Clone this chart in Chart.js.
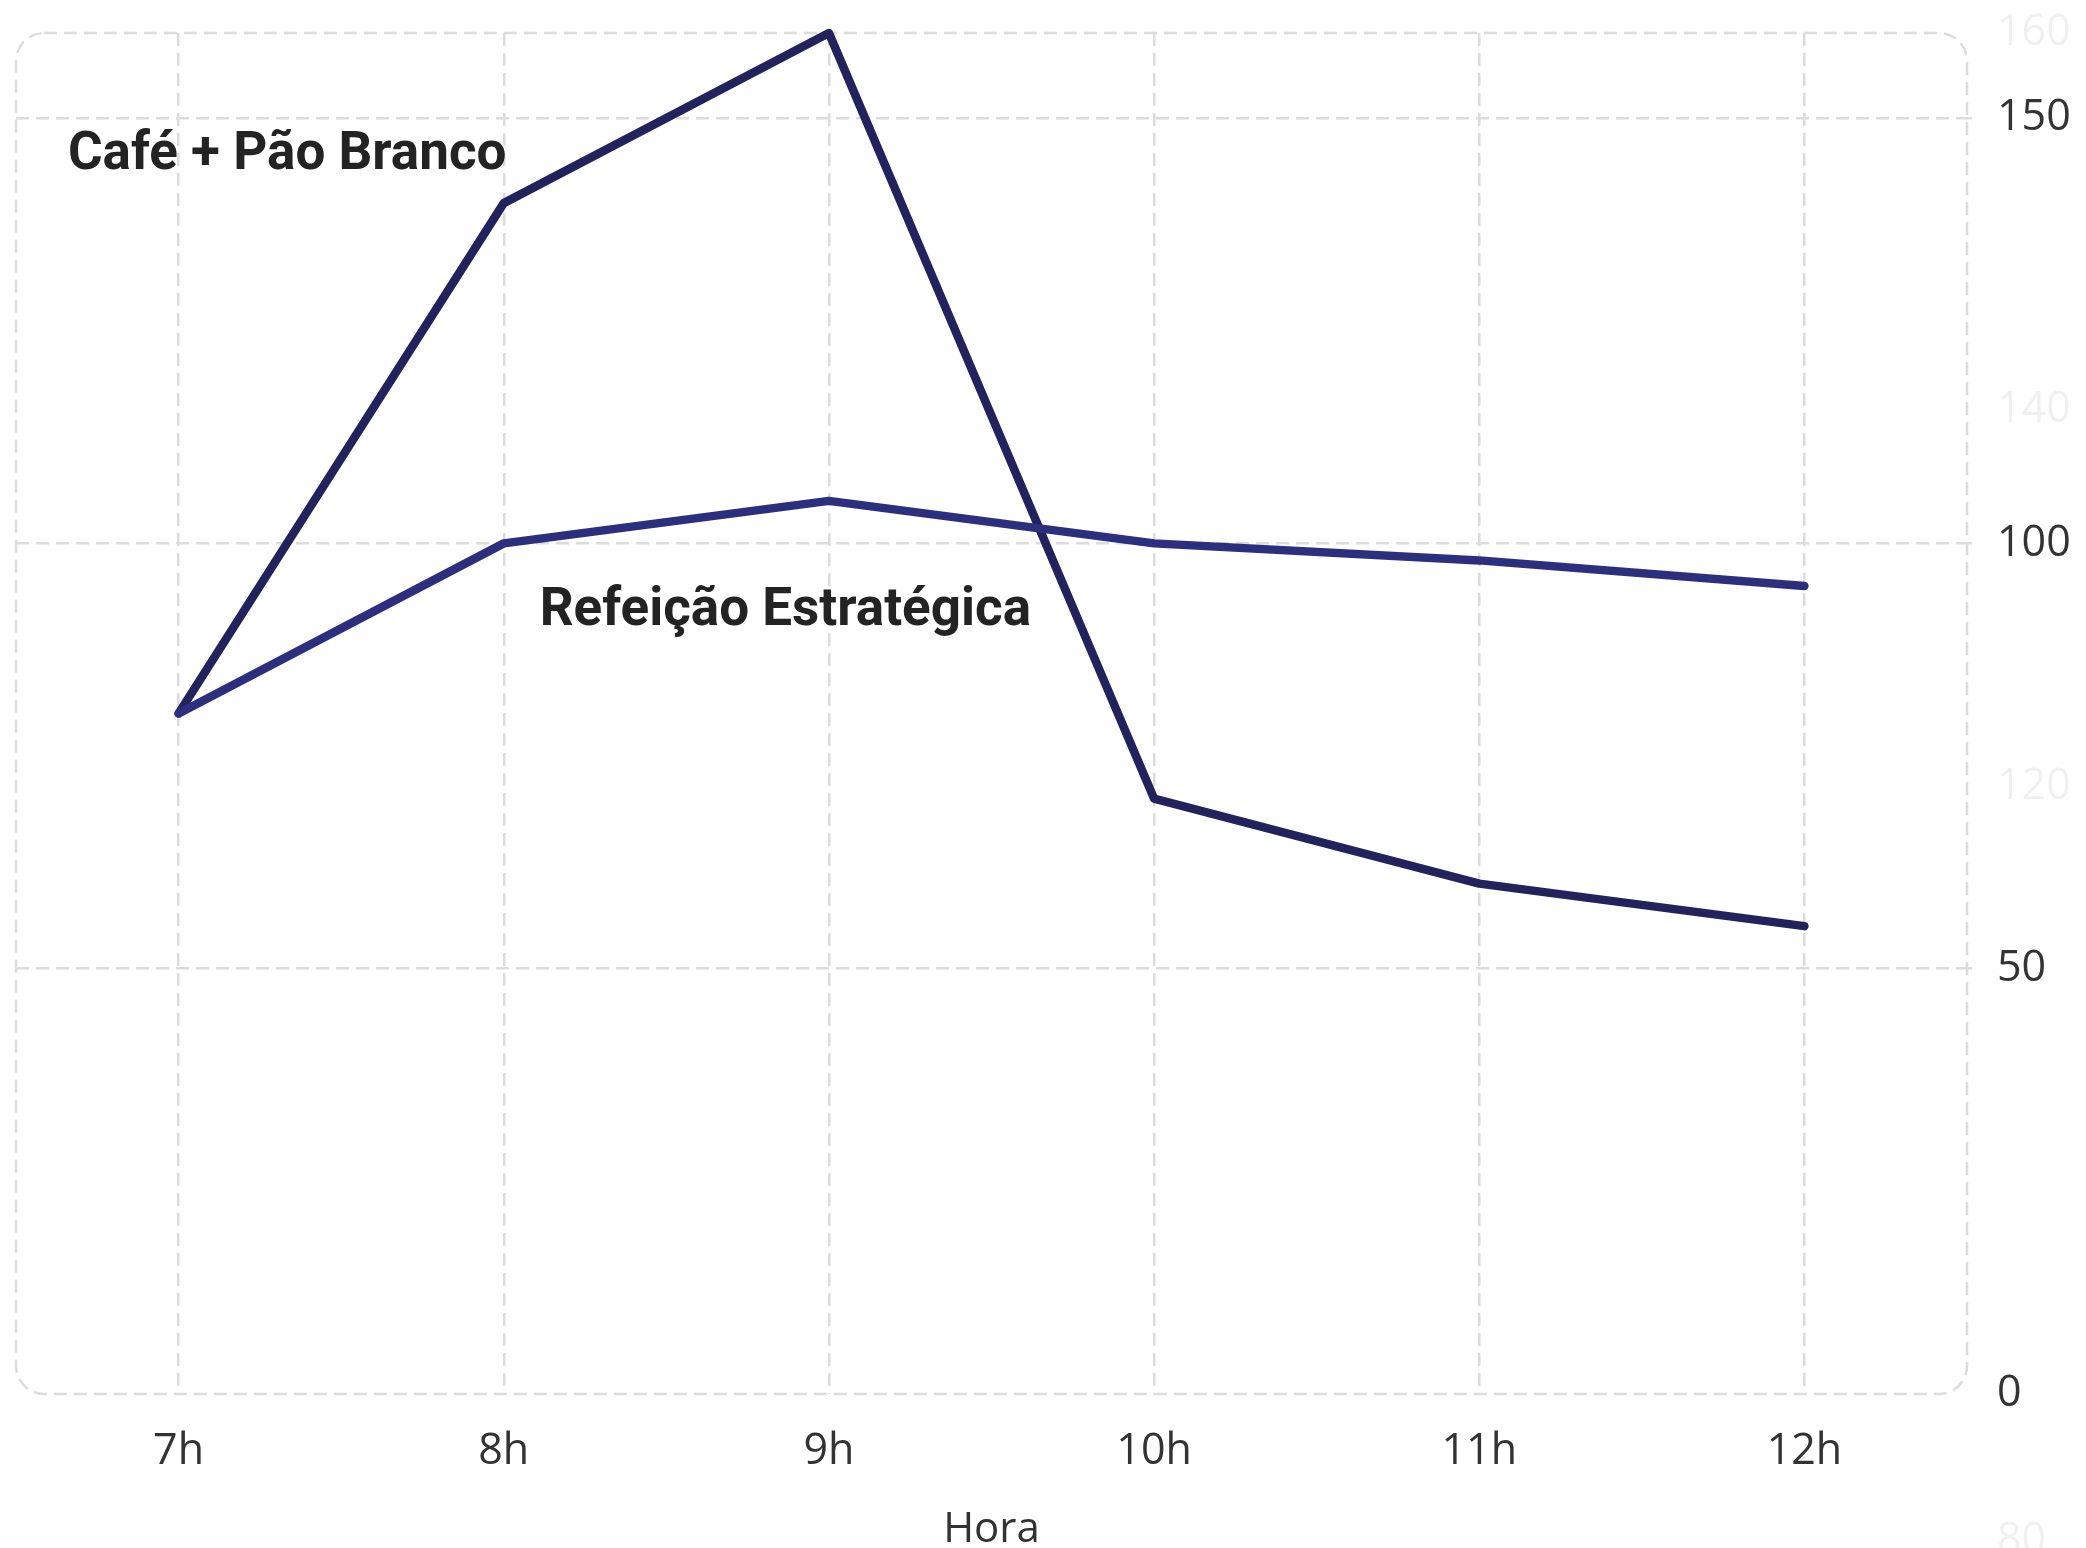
<!DOCTYPE html>
<html>
<head>
<meta charset="utf-8">
<script src="https://cdn.jsdelivr.net/npm/chart.js@4/dist/chart.umd.min.js"></script>
<style>
  html, body { margin: 0; padding: 0; background: #ffffff; }
  #wrap { width: 2086px; height: 1548px; }
</style>
</head>
<body>
<div id="wrap"><canvas id="c" width="2086" height="1548"></canvas></div>
<script>
// Glicemia ao longo da manhã: duas estratégias de café da manhã
const hours = ['7h', '8h', '9h', '10h', '11h', '12h'];
const cafePaoBranco = [80, 140, 160, 70, 60, 55];
const refeicaoEstrategica = [80, 100, 105, 100, 98, 95];

const yTickValues = [0, 50, 100, 150];
const faintTickValues = [160, 140, 120, 80];

// Inline series labels, placed in data coordinates (category index, value)
const labelTexts = ['Café + Pão Branco', 'Refeição Estratégica'];
const labelIndex = [0.334, 1.866];
const labelValue = [144, 90.4];

const GRID = '#dcdcdc';
const DASH = [13, 7];
const TICK_FAMILY = '"Open Sans", "Noto Sans", sans-serif';
const TICK_FONT = { family: TICK_FAMILY, size: 43 };

// Rounded dashed frame around the plotting area
const frame = {
  id: 'frame',
  beforeDatasetsDraw(chart) {
    const { ctx, chartArea: a } = chart;
    const r = 28;
    ctx.save();
    ctx.strokeStyle = GRID;
    ctx.lineWidth = 2.5;
    ctx.setLineDash(DASH);
    ctx.beginPath();
    ctx.roundRect(a.left, a.top, a.right - a.left, a.bottom - a.top, r);
    ctx.stroke();
    ctx.restore();
  }
};

// Faded secondary scale labels beside the main value axis
const faintLabels = {
  id: 'faintLabels',
  afterDraw(chart) {
    const { ctx } = chart;
    const s = chart.scales.yFaint;
    const x = chart.scales.y.left + 30;
    ctx.save();
    ctx.fillStyle = 'rgba(0,0,0,0.06)';
    ctx.font = '43px ' + TICK_FAMILY;
    ctx.textAlign = 'left';
    ctx.textBaseline = 'middle';
    faintTickValues.forEach(v => ctx.fillText(String(v), x, s.getPixelForValue(v)));
    ctx.restore();
  }
};

// Series names written next to their lines
const seriesLabels = {
  id: 'seriesLabels',
  afterDatasetsDraw(chart) {
    const { ctx } = chart;
    const x = chart.scales.x, y = chart.scales.y;
    ctx.save();
    ctx.fillStyle = '#232323';
    ctx.font = '700 53px Roboto, "Liberation Sans", sans-serif';
    ctx.textAlign = 'center';
    ctx.textBaseline = 'alphabetic';
    labelTexts.forEach((t, i) => {
      ctx.fillText(t, x.getPixelForValue(labelIndex[i]), y.getPixelForValue(labelValue[i]));
    });
    ctx.restore();
  }
};

new Chart(document.getElementById('c'), {
  type: 'line',
  data: {
    labels: hours,
    datasets: [
      {
        label: 'Refeição Estratégica',
        data: refeicaoEstrategica,
        borderColor: '#2c2f7e',
        borderWidth: 8.5,
        tension: 0,
        pointRadius: 0,
        borderCapStyle: 'round',
        borderJoinStyle: 'round',
        yAxisID: 'y',
        clip: false
      },
      {
        label: 'Café + Pão Branco',
        data: cafePaoBranco,
        borderColor: '#22235c',
        borderWidth: 8.5,
        tension: 0,
        pointRadius: 0,
        borderCapStyle: 'round',
        borderJoinStyle: 'round',
        yAxisID: 'y',
        clip: false
      }
    ]
  },
  options: {
    responsive: false,
    animation: false,
    layout: { padding: { left: 16, top: 33, right: 0, bottom: 0 } },
    plugins: {
      legend: { display: false },
      tooltip: { enabled: false }
    },
    scales: {
      x: {
        offset: true,
        grid: { color: GRID, lineWidth: 2.5, drawTicks: false, offset: false },
        border: { display: false, dash: DASH },
        ticks: { color: '#333333', font: TICK_FONT, padding: 32, maxRotation: 0 },
        title: {
          display: true,
          text: 'Hora',
          color: '#333333',
          font: { family: TICK_FAMILY, size: 42, lineHeight: 0.85 },
          padding: { top: 0, bottom: 0 }
        },
        afterFit(s) { s.height = 154; s.paddingLeft = 0; s.paddingRight = 0; }
      },
      y: {
        position: 'right',
        min: 0,
        max: 160,
        afterBuildTicks(s) { s.ticks = yTickValues.map(v => ({ value: v })); },
        grid: {
          color: (c) => (c.tick && c.tick.value === 0) ? 'rgba(0,0,0,0)' : GRID,
          lineWidth: 2.5,
          tickLength: 5
        },
        border: { display: false, dash: DASH },
        ticks: { color: '#333333', font: TICK_FONT, padding: 25 },
        afterFit(s) { s.width = 119; s.paddingTop = 0; s.paddingBottom = 0; }
      },
      yFaint: {
        display: false,
        position: 'right',
        min: 87.8,
        max: 160
      }
    }
  },
  plugins: [frame, seriesLabels, faintLabels]
});
</script>
</body>
</html>
